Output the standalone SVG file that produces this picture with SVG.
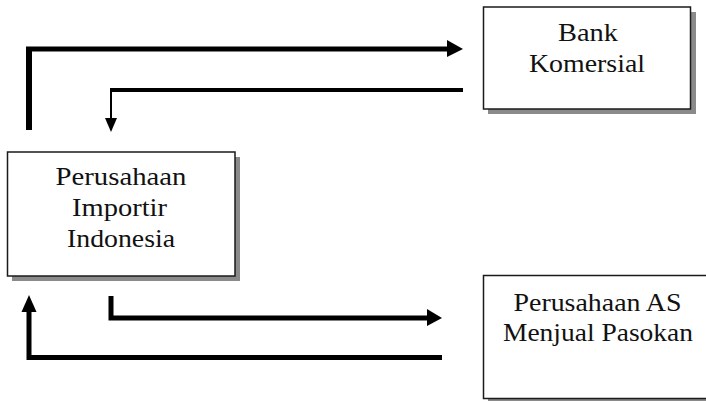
<svg xmlns="http://www.w3.org/2000/svg" width="706" height="401" viewBox="0 0 706 401">
  <style>
    .box { fill: #ffffff; stroke: #1a1a1a; stroke-width: 1.5; }
    .shadow { fill: #8a8a8a; }
    .label { font-family: "Liberation Serif", "Times New Roman", serif; font-size: 25px; fill: #111111; text-anchor: middle; }
    .flow { fill: none; stroke: #000000; stroke-linejoin: miter; stroke-linecap: butt; }
    .head { fill: #000000; }
  </style>
  <rect width="706" height="401" fill="#ffffff"/>

  <g id="connectors">
    <!-- importer to bank -->
    <path class="flow" d="M29,130 V49" stroke-width="6"/>
    <path class="flow" d="M26,49 H448" stroke-width="5"/>
    <polygon class="head" points="447,40 463,49 447,57"/>
    <!-- bank to importer -->
    <path class="flow" d="M463,90 H110" stroke-width="4"/>
    <path class="flow" d="M111,88 V119" stroke-width="2"/>
    <polygon class="head" points="105,118 117,118 111,132"/>
    <!-- importer to US company -->
    <path class="flow" d="M111,296 V318 H428" stroke-width="5"/>
    <polygon class="head" points="427,309 442,318 427,326"/>
    <!-- US company to importer -->
    <path class="flow" d="M442,357.5 H29 V310" stroke-width="5"/>
    <polygon class="head" points="21.5,312 36.5,312 29,295"/>
  </g>

  <g id="bank-komersial">
    <rect class="shadow" x="488" y="12" width="208" height="102"/>
    <rect class="box" x="483.5" y="7" width="207" height="102"/>
    <text class="label" x="588" y="40.5" textLength="60" lengthAdjust="spacingAndGlyphs">Bank</text>
    <text class="label" x="587" y="71.5" textLength="116" lengthAdjust="spacingAndGlyphs">Komersial</text>
  </g>

  <g id="perusahaan-importir">
    <rect class="shadow" x="12" y="157" width="228" height="124"/>
    <rect class="box" x="7.5" y="152" width="227.5" height="124"/>
    <text class="label" x="121" y="185" textLength="131" lengthAdjust="spacingAndGlyphs">Perusahaan</text>
    <text class="label" x="119.5" y="216" textLength="95" lengthAdjust="spacingAndGlyphs">Importir</text>
    <text class="label" x="121" y="247" textLength="108" lengthAdjust="spacingAndGlyphs">Indonesia</text>
  </g>

  <g id="perusahaan-as">
    <rect class="shadow" x="488" y="280" width="230" height="125"/>
    <rect class="box" x="483.5" y="275.5" width="230" height="123"/>
    <text class="label" x="597.5" y="310.5" textLength="168" lengthAdjust="spacingAndGlyphs">Perusahaan AS</text>
    <text class="label" x="598" y="341" textLength="190" lengthAdjust="spacingAndGlyphs">Menjual Pasokan</text>
  </g>
</svg>
